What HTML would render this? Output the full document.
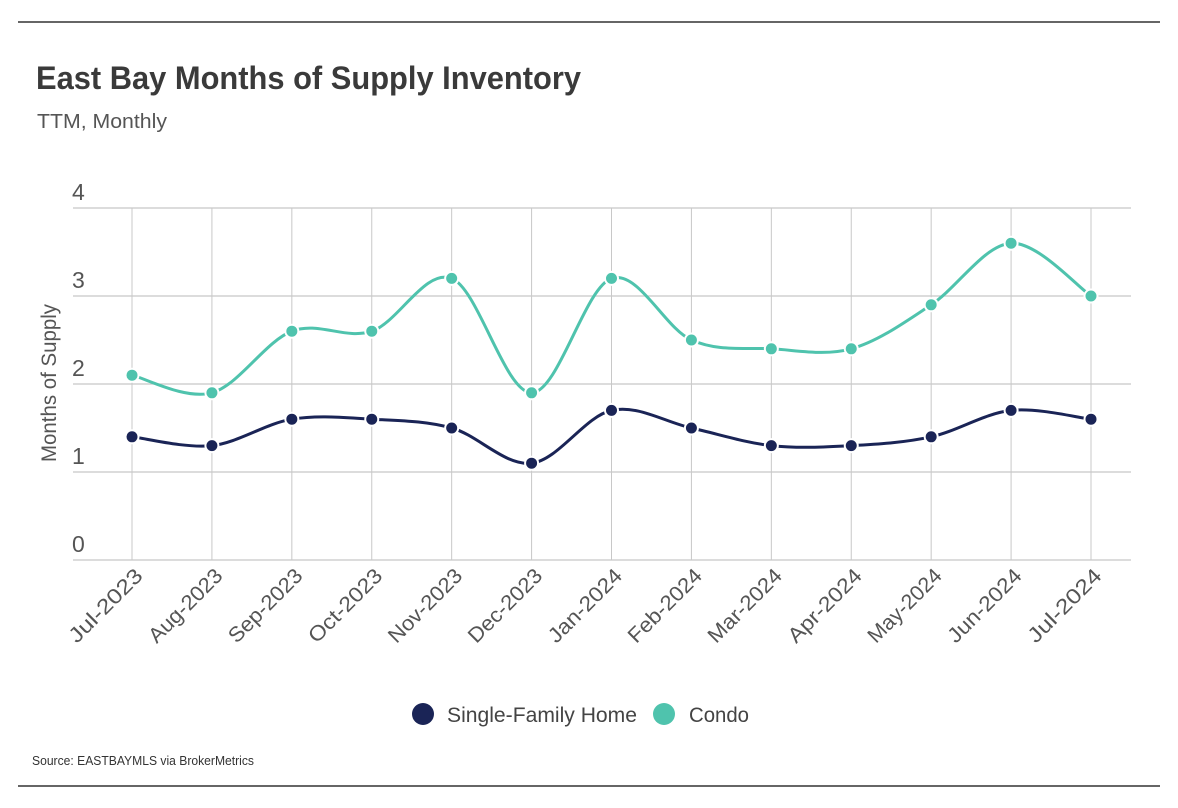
<!DOCTYPE html>
<html><head><meta charset="utf-8">
<style>
body{margin:0;background:#fff;}
svg{display:block;font-family:"Liberation Sans Narrow","Liberation Sans",sans-serif;}
</style></head>
<body>
<svg id="chart" width="1178" height="808" viewBox="0 0 1178 808">
<line x1="18" y1="22" x2="1160" y2="22" stroke="#333" stroke-width="1.5"/>
<line x1="18" y1="786" x2="1160" y2="786" stroke="#333" stroke-width="1.5"/>
<text x="36" y="89" font-size="32" font-weight="bold" fill="#3a3a3a" font-family="Liberation Sans, sans-serif" textLength="545" lengthAdjust="spacingAndGlyphs">East Bay Months of Supply Inventory</text>
<text x="37" y="128" font-size="20" fill="#555" textLength="130" lengthAdjust="spacingAndGlyphs">TTM, Monthly</text>
<g id="grid"></g>
<g id="series"></g>
<text transform="translate(56,383) rotate(-90)" text-anchor="middle" font-size="21" fill="#555" textLength="158" lengthAdjust="spacingAndGlyphs">Months of Supply</text>
<circle cx="423" cy="714" r="11" fill="#1a2456"/>
<text x="447" y="722" font-size="21" fill="#444" textLength="190" lengthAdjust="spacingAndGlyphs">Single-Family Home</text>
<circle cx="664" cy="714" r="11" fill="#4fc3ad"/>
<text x="689" y="722" font-size="21" fill="#444" textLength="60" lengthAdjust="spacingAndGlyphs">Condo</text>
<text x="32" y="765" font-size="13" fill="#333" textLength="222" lengthAdjust="spacingAndGlyphs">Source:  EASTBAYMLS via BrokerMetrics</text>
</svg>
<script>
const categories=["Jul-2023","Aug-2023","Sep-2023","Oct-2023","Nov-2023","Dec-2023","Jan-2024","Feb-2024","Mar-2024","Apr-2024","May-2024","Jun-2024","Jul-2024"];
const sfhValues=[1.4,1.3,1.6,1.6,1.5,1.1,1.7,1.5,1.3,1.3,1.4,1.7,1.6];
const condoValues=[2.1,1.9,2.6,2.6,3.2,1.9,3.2,2.5,2.4,2.4,2.9,3.6,3.0];
const yTicks=[0,1,2,3,4];
const NS="http://www.w3.org/2000/svg";
const x0=132,x1=1091,yBase=560,yTop=208,yMax=4;
function xs(i){return x0+i*(x1-x0)/(categories.length-1);}
function ys(v){return yBase-v*(yBase-yTop)/yMax;}
function mk(tag,attrs,parent){const e=document.createElementNS(NS,tag);for(const k in attrs)e.setAttribute(k,attrs[k]);parent.appendChild(e);return e;}
const grid=document.getElementById('grid');
yTicks.forEach(t=>{
  const l=mk('line',{x1:73,x2:1131,y1:ys(t),y2:ys(t),stroke:'#c8c8c8','stroke-width':1.3},grid);
  
  
  const tx=mk('text',{x:72,y:ys(t)-8,'font-size':23,fill:'#555'},grid);
  tx.textContent=t;
  
  
});
categories.forEach((c,i)=>{
  const l=mk('line',{x1:xs(i),x2:xs(i),y1:yTop,y2:yBase,stroke:'#c8c8c8','stroke-width':1},grid);
  
  
  const tx=mk('text',{transform:`translate(${xs(i)+12},${yBase+17}) rotate(-45)`,'text-anchor':'end','font-size':21,fill:'#555',textLength:95,lengthAdjust:'spacingAndGlyphs'},grid);
  tx.textContent=c;
  
  
});
function path(vals){
  const p=vals.map((v,i)=>[xs(i),ys(v)]);
  let d=`M${p[0][0]},${p[0][1]}`;
  for(let i=0;i<p.length-1;i++){
    const a=p[i-1]||p[i],b=p[i],c=p[i+1],e=p[i+2]||c,k=1/6;
    d+=` C${b[0]+(c[0]-a[0])*k},${b[1]+(c[1]-a[1])*k} ${c[0]-(e[0]-b[0])*k},${c[1]-(e[1]-b[1])*k} ${c[0]},${c[1]}`;
  }
  return d;
}
const g=document.getElementById('series');
[[condoValues,'#4fc3ad','condo'],[sfhValues,'#1a2456','sfh']].forEach(([vals,col,nm])=>{
  const ln=mk('path',{d:path(vals),fill:'none',stroke:col,'stroke-width':3},g);
  
  
  vals.forEach((v,i)=>{
    const c=mk('circle',{cx:xs(i),cy:ys(v),r:6.5,fill:col,stroke:'#fff','stroke-width':2},g);
    
    
  });
});
</script>
</body></html>
